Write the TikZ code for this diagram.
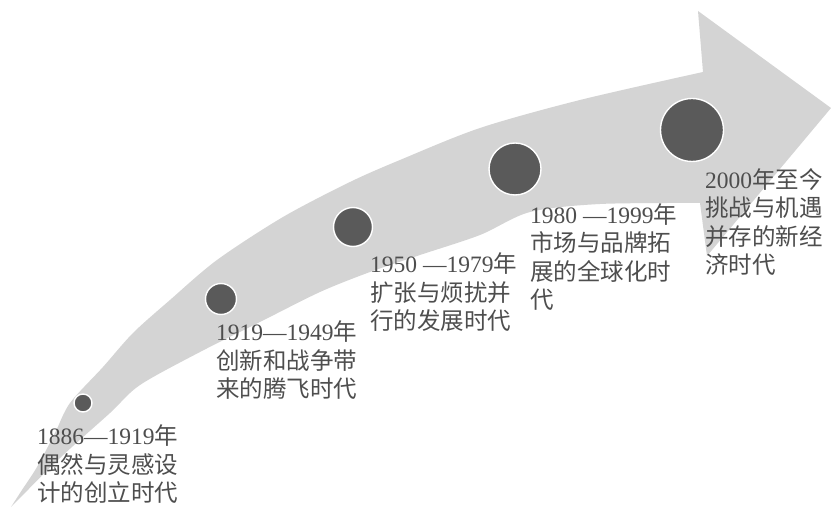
\documentclass[tikz,border=0pt]{standalone}
\usepackage{fontspec}
\setmainfont{Liberation Serif}
\newfontfamily\cjkfont{Noto Sans CJK SC}
\newcommand{\zh}[1]{{\cjkfont #1}}
\definecolor{arrowgray}{RGB}{212,212,212}
\definecolor{dotgray}{RGB}{90,90,90}
\definecolor{textgray}{RGB}{78,78,78}
\tikzset{
  era/.style={circle, fill=dotgray, draw=white, line width=1.4pt, inner sep=0pt},
  label/.style={anchor=base west, align=left, inner sep=0pt, text=textgray,
    font=\fontsize{23.5}{28.5}\selectfont}
}
\begin{document}
\begin{tikzpicture}[x=1pt, y=-1pt]
\useasboundingbox (0,0) rectangle (831,510);
\fill[white] (0,0) rectangle (831,510);
% arrow body and head
\fill[arrowgray]
  plot[smooth, tension=0.5] coordinates {(11,507) (22,490) (37,467) (55,433) (70,403) (103,367) (133,333) (170,300) (217,260) (283,217) (350,182) (400,160) (480,128) (580,100) (703,72)}
  -- (698,11) -- (831,108) -- (707,256) -- (700,203)
  -- plot[smooth, tension=0.5] coordinates {(700,203) (600,204) (530,212) (480,235) (420,255) (370,272) (320,292) (260,322) (200,352) (140,385) (110,413) (60,458) (11,507)}
  -- cycle;
% era dots
\node[era, minimum size=18pt] (d1) at (83,403) {};
\node[era, minimum size=31pt] (d2) at (221,299) {};
\node[era, minimum size=39pt] (d3) at (353,227) {};
\node[era, minimum size=52pt] (d4) at (515,169) {};
\node[era, minimum size=63pt] (d5) at (692,130) {};
% labels (base anchor = baseline of the last line)
\node[label] (t1) at (37,502) {1886—1919\zh{年}\\\zh{偶然与灵感设}\\\zh{计的创立时代}};
\node[label] (t2) at (216,398) {1919—1949\zh{年}\\\zh{创新和战争带}\\\zh{来的腾飞时代}};
\node[label] (t3) at (370,330) {1950 —1979\zh{年}\\\zh{扩张与烦扰并}\\\zh{行的发展时代}};
\node[label] (t4) at (530,309) {1980 —1999\zh{年}\\\zh{市场与品牌拓}\\\zh{展的全球化时}\\\zh{代}};
\node[label] (t5) at (705,274) {2000\zh{年至今}\\\zh{挑战与机遇}\\\zh{并存的新经}\\\zh{济时代}};
\end{tikzpicture}
\end{document}
